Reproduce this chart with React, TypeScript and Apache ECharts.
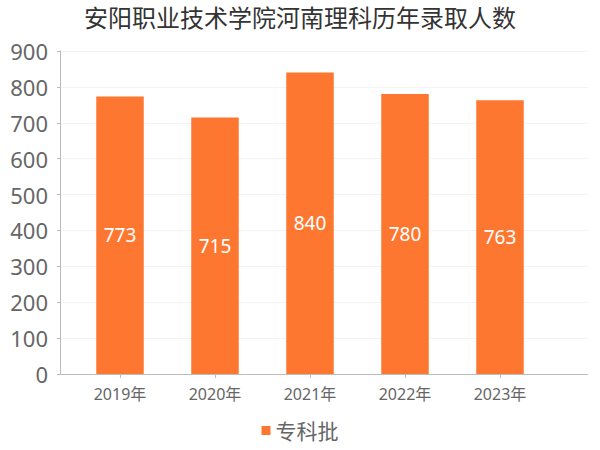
import React, { useEffect, useRef } from "react";
import * as echarts from "echarts";

const titleText = "安阳职业技术学院河南理科历年录取人数";
const categories = ["2019年", "2020年", "2021年", "2022年", "2023年"];
const seriesName = "专科批";
const values = [773, 715, 840, 780, 763];
const yMin = 0;
const yMax = 900;
const yInterval = 100;

const FONT = '"Noto Sans", "Noto Sans CJK SC", sans-serif';

export default function App() {
  const ref = useRef<HTMLDivElement>(null);
  useEffect(() => {
    if (!ref.current) return;
    const chart = echarts.init(ref.current, undefined, { renderer: "svg" });
    chart.setOption({
      animation: false,
      backgroundColor: "#ffffff",
      textStyle: { fontFamily: FONT },
      title: {
        text: titleText,
        left: "center",
        top: 0,
        textStyle: { fontSize: 24, fontWeight: "normal", color: "#333333", fontFamily: FONT },
      },
      legend: {
        bottom: 4,
        left: "center",
        icon: "rect",
        itemWidth: 9,
        itemHeight: 9,
        itemGap: 6,
        textStyle: { fontSize: 21, color: "#666666", fontFamily: FONT },
        data: [seriesName],
      },
      grid: [
        { left: 60, right: 12, top: 51, bottom: 76 },
        { left: 72.5, right: 52.5, top: 51, bottom: 76 },
      ],
      xAxis: [
        {
          gridIndex: 0,
          type: "value",
          min: 0,
          max: 1,
          offset: 5,
          axisLine: { show: true, lineStyle: { color: "#bbbbbb" } },
          axisTick: { show: false },
          axisLabel: { show: false },
          splitLine: { show: false },
        },
        {
          gridIndex: 1,
          type: "category",
          data: categories,
          offset: 5,
          axisLine: { show: false },
          axisTick: { show: true, alignWithLabel: true, length: 4, lineStyle: { color: "#bbbbbb" } },
          axisLabel: { fontSize: 16, color: "#666666", margin: 7, fontFamily: FONT },
        },
      ],
      yAxis: [
        {
          gridIndex: 0,
          type: "value",
          min: yMin,
          max: yMax,
          interval: yInterval,
          offset: 5,
          axisLine: { show: true, lineStyle: { color: "#bbbbbb" } },
          axisTick: { show: true, length: 3, lineStyle: { color: "#bbbbbb" } },
          axisLabel: { fontSize: 22, color: "#666666", margin: 7, fontFamily: FONT },
          splitLine: { show: true, lineStyle: { color: "#f3f3f3" } },
        },
        {
          gridIndex: 1,
          type: "value",
          min: yMin,
          max: yMax,
          interval: yInterval,
          show: false,
        },
      ],
      series: [
        {
          name: seriesName,
          type: "bar",
          xAxisIndex: 1,
          yAxisIndex: 1,
          data: values,
          barWidth: "50%",
          itemStyle: { color: "#fe7731" },
          label: {
            show: true,
            position: "inside",
            color: "#ffffff",
            fontSize: 19,
            fontFamily: FONT,
          },
        },
      ],
    });
    return () => chart.dispose();
  }, []);
  return (
    <div
      ref={ref}
      style={{ position: "absolute", left: 0, top: 0, width: 600, height: 450 }}
    />
  );
}
